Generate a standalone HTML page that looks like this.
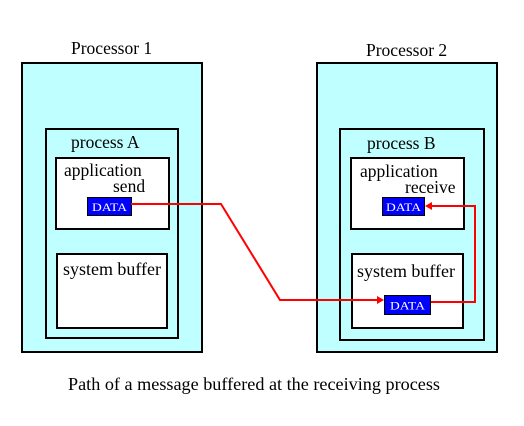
<!DOCTYPE html>
<html><head><style>body{margin:0;background:#fff}svg{display:block}</style></head><body>
<svg width="524" height="426" viewBox="0 0 524 426" font-family="Liberation Serif, serif">
<g stroke="#000" stroke-width="2">
<rect x="22" y="63" width="180" height="289" fill="#c0ffff"/>
<rect x="46" y="129" width="132" height="209" fill="#c0ffff"/>
<rect x="56" y="158" width="113" height="71" fill="#fff"/>
<rect x="57" y="254" width="110" height="74" fill="#fff"/>
<rect x="317" y="63" width="180" height="289" fill="#c0ffff"/>
<rect x="340" y="129" width="144" height="211" fill="#c0ffff"/>
<rect x="351" y="158" width="113" height="71" fill="#fff"/>
<rect x="352" y="254" width="111" height="74" fill="#fff"/>
</g>
<g stroke="#000" stroke-width="1" fill="#0000ff">
<rect x="87.5" y="197.5" width="44" height="18"/>
<rect x="382.5" y="197.5" width="42" height="18"/>
<rect x="384.5" y="295.5" width="46" height="19"/>
</g>
<g fill="#fff" font-size="12">
<text x="92" y="211" textLength="35" lengthAdjust="spacingAndGlyphs">DATA</text>
<text x="386" y="211" textLength="35" lengthAdjust="spacingAndGlyphs">DATA</text>
<text x="390" y="309.5" textLength="35" lengthAdjust="spacingAndGlyphs">DATA</text>
</g>
<g fill="none" stroke="#f00" stroke-width="2">
<polyline points="131,204 221,204 280,300 378,300"/>
<polyline points="431,302 475,302 475,206 431,206"/>
</g>
<polygon points="384,300 377,296 377,304" fill="#f00"/>
<polygon points="425,206 432,202 432,210" fill="#f00"/>
<g fill="#000" font-size="17.5">
<text x="71" y="54">Processor 1</text>
<text x="366" y="56">Processor 2</text>
<text x="71" y="148">process A</text>
<text x="367" y="149">process B</text>
<text x="64" y="176">application</text>
<text x="113" y="192">send</text>
<text x="360" y="177">application</text>
<text x="405" y="193">receive</text>
<text x="63" y="275" textLength="98" lengthAdjust="spacingAndGlyphs">system buffer</text>
<text x="357" y="277" textLength="98" lengthAdjust="spacingAndGlyphs">system buffer</text>
<text x="68" y="390" textLength="372" lengthAdjust="spacingAndGlyphs">Path of a message buffered at the receiving process</text>
</g>
</svg>
</body></html>
